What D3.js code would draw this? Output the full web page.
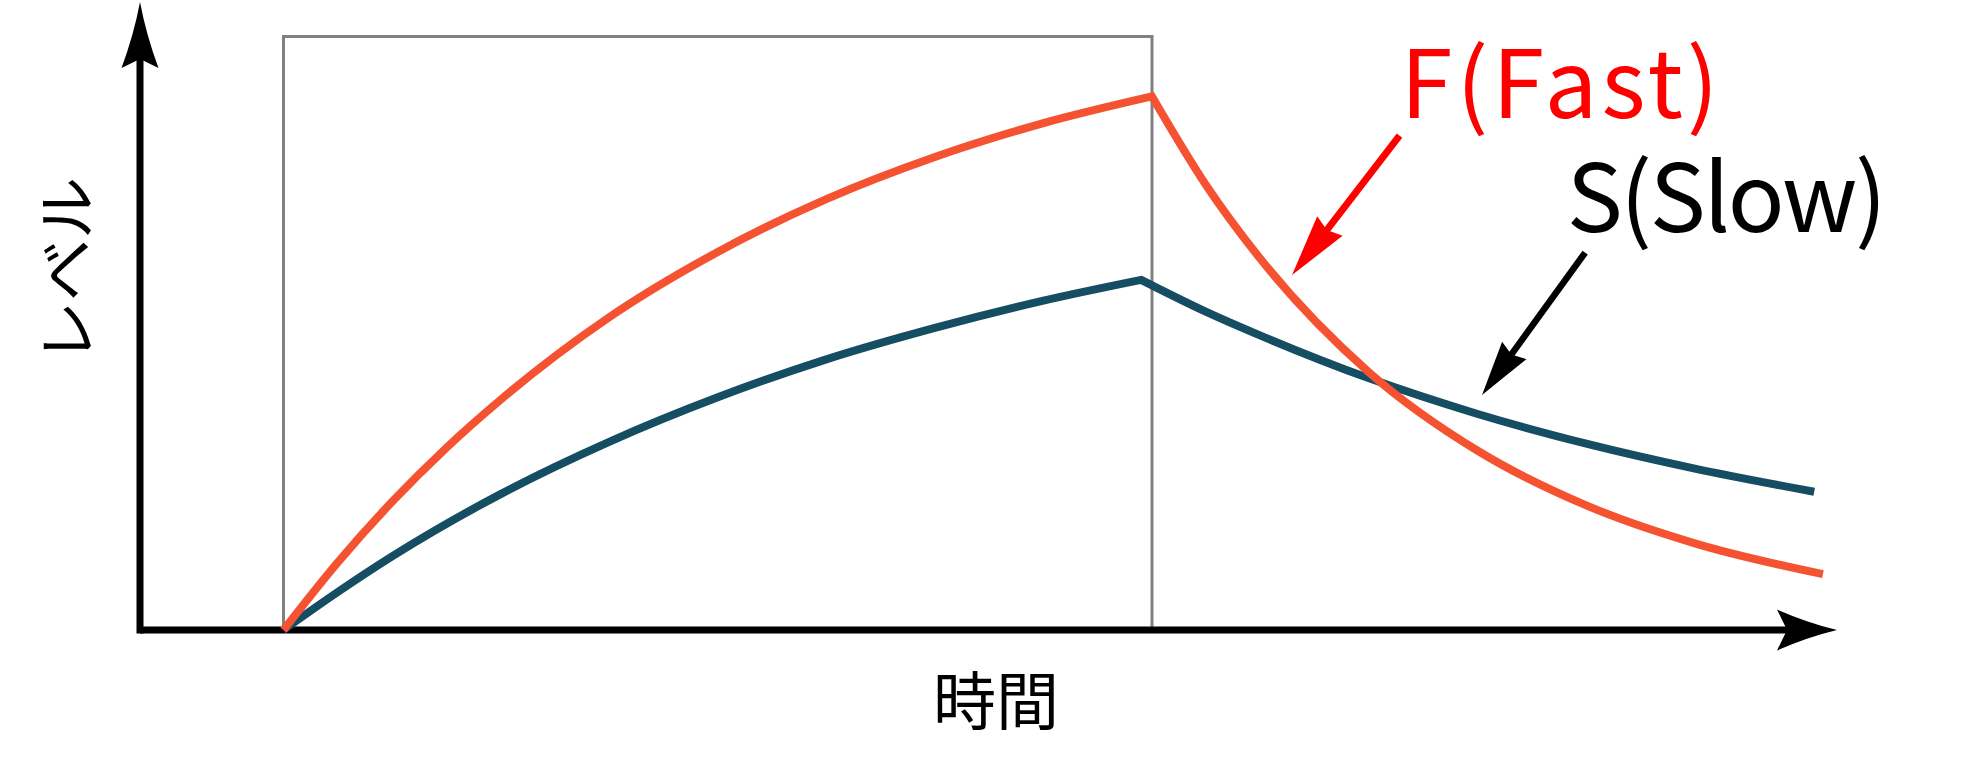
<!DOCTYPE html>
<html>
<head>
<meta charset="utf-8">
<script src="https://cdn.jsdelivr.net/npm/d3@7/dist/d3.min.js"></script>
<style>
  html, body { margin: 0; padding: 0; background: #ffffff; }
  svg { display: block; }
</style>
</head>
<body>
<svg id="chart" width="1971" height="769"></svg>
<script>
// ---------------- data ----------------
const axisLabels = { x: "時間", y: "レベル" };
const seriesNames = ["F(Fast)", "S(Slow)"];

const fastRiseTime   = [0, 0.5, 1, 1.5, 2, 3, 4, 5, 6, 7, 8];
const fastRiseLevel  = [0, 0.114, 0.216, 0.307, 0.388, 0.527, 0.637, 0.726, 0.797, 0.854, 0.899];
const fastDecayTime  = [8, 8.5, 9, 10, 11, 12, 13, 14.18];
const fastDecayLevel = [0.899, 0.749, 0.625, 0.434, 0.302, 0.210, 0.146, 0.094];

const slowRiseTime   = [0, 0.5, 1, 2, 3, 4, 5, 6, 7, 7.9];
const slowRiseLevel  = [0, 0.064, 0.124, 0.229, 0.317, 0.392, 0.456, 0.509, 0.555, 0.590];
const slowDecayTime  = [7.9, 8.5, 9, 10, 11, 12, 13, 14.1];
const slowDecayLevel = [0.590, 0.536, 0.496, 0.424, 0.364, 0.314, 0.272, 0.233];

// stimulus window (time 0..8, full level)
const windowTime  = [0, 8];
const windowLevel = [0, 1];

// ---------------- layout ----------------
const svg = d3.select("#chart");
const W = 1971, H = 769;
svg.append("rect").attr("width", W).attr("height", H).attr("fill", "#fff");

const x = d3.scaleLinear().domain([0, 8]).range([283.5, 1152]);
const y = d3.scaleLinear().domain([0, 1]).range([630, 36.5]);

const originX = 140, originY = 630;
const xAxisTip = 1837, yAxisTip = 2;
const colFast = "#f55232", colSlow = "#154e62";
const font = "'Noto Sans CJK JP', 'Noto Sans', sans-serif";

// window box
svg.append("rect")
  .attr("x", x(windowTime[0])).attr("y", y(windowLevel[1]))
  .attr("width", x(windowTime[1]) - x(windowTime[0]))
  .attr("height", y(windowLevel[0]) - y(windowLevel[1]))
  .attr("fill", "none").attr("stroke", "#808080").attr("stroke-width", 3);

// arrowhead helper
function head(tip, dir, L, Wd, notch, concave) {
  const p = [-dir[1], dir[0]];
  const B = [tip[0] - dir[0] * L, tip[1] - dir[1] * L];
  const b1 = [B[0] + p[0] * Wd, B[1] + p[1] * Wd];
  const b2 = [B[0] - p[0] * Wd, B[1] - p[1] * Wd];
  const n = [tip[0] - dir[0] * (L - notch), tip[1] - dir[1] * (L - notch)];
  const m1 = [(tip[0] + b1[0]) / 2 - p[0] * concave, (tip[1] + b1[1]) / 2 - p[1] * concave];
  const m2 = [(tip[0] + b2[0]) / 2 + p[0] * concave, (tip[1] + b2[1]) / 2 + p[1] * concave];
  const path = d3.path();
  path.moveTo(tip[0], tip[1]);
  path.quadraticCurveTo(m1[0], m1[1], b1[0], b1[1]);
  path.lineTo(n[0], n[1]);
  path.lineTo(b2[0], b2[1]);
  path.quadraticCurveTo(m2[0], m2[1], tip[0], tip[1]);
  path.closePath();
  return { d: path.toString(), notch: n };
}

// axes (no ticks)
const gAx = svg.append("g");
const hx = head([xAxisTip, originY], [1, 0], 60, 20.5, 10, 3);
const hy = head([originX, yAxisTip], [0, -1], 66, 18.5, 9, 3);
gAx.append("line").attr("x1", originX).attr("y1", originY).attr("x2", hx.notch[0] + 2).attr("y2", originY)
  .attr("stroke", "#000").attr("stroke-width", 7);
gAx.append("line").attr("x1", originX).attr("y1", originY + 3.5).attr("x2", originX).attr("y2", hy.notch[1] - 2)
  .attr("stroke", "#000").attr("stroke-width", 7);
gAx.append("path").attr("d", hx.d).attr("fill", "#000");
gAx.append("path").attr("d", hy.d).attr("fill", "#000");

// curves
const line = d3.line().x(d => x(d[0])).y(d => y(d[1])).curve(d3.curveMonotoneX);
function joined(t1, v1, t2, v2) {
  const a = line(t1.map((t, i) => [t, v1[i]]));
  const b = line(t2.map((t, i) => [t, v2[i]])).replace(/^M[^A-Za-z]*/, "");
  return a + b;
}
svg.append("path")
  .attr("d", joined(slowRiseTime, slowRiseLevel, slowDecayTime, slowDecayLevel))
  .attr("fill", "none").attr("stroke", colSlow).attr("stroke-width", 8)
  .attr("stroke-linejoin", "miter").attr("stroke-miterlimit", 10);
svg.append("path")
  .attr("d", joined(fastRiseTime, fastRiseLevel, fastDecayTime, fastDecayLevel))
  .attr("fill", "none").attr("stroke", colFast).attr("stroke-width", 8)
  .attr("stroke-linejoin", "miter").attr("stroke-miterlimit", 10);

// annotation arrows (positions in data units)
function annotArrow(from, to, color, L, Wd, sw) {
  const s = [x(from[0]), y(from[1])], t = [x(to[0]), y(to[1])];
  const len = Math.hypot(t[0] - s[0], t[1] - s[1]);
  const dir = [(t[0] - s[0]) / len, (t[1] - s[1]) / len];
  const h = head(t, dir, L, Wd, 5, 0);
  svg.append("line").attr("x1", s[0]).attr("y1", s[1])
    .attr("x2", h.notch[0] + dir[0] * 2).attr("y2", h.notch[1] + dir[1] * 2)
    .attr("stroke", color).attr("stroke-width", sw);
  svg.append("path").attr("d", h.d).attr("fill", color);
}
annotArrow([10.28, 0.833], [9.29, 0.598], "#ff0000", 62, 16, 7);
annotArrow([11.99, 0.636], [11.04, 0.396], "#000000", 55, 15, 6.5);

// labels
svg.append("text").text(seriesNames[0])
  .attr("x", x(10.29)).attr("y", y(0.862))
  .attr("font-family", font).attr("font-size", 94).attr("fill", "#ff0000")
  .attr("textLength", 318).attr("lengthAdjust", "spacing");
svg.append("text").text(seriesNames[1])
  .attr("x", x(11.82)).attr("y", y(0.670))
  .attr("font-family", font).attr("font-size", 94).attr("fill", "#000")
  .attr("textLength", 320).attr("lengthAdjust", "spacing");

svg.append("text").text(axisLabels.x)
  .attr("x", 996).attr("y", 696)
  .attr("text-anchor", "middle").attr("dominant-baseline", "central")
  .attr("font-family", font).attr("font-size", 63).attr("fill", "#000");
svg.append("text").text(axisLabels.y)
  .attr("transform", "translate(63,270) rotate(-90)")
  .attr("text-anchor", "middle").attr("dominant-baseline", "central")
  .attr("font-family", font).attr("font-size", 62).attr("fill", "#000");
</script>
</body>
</html>
